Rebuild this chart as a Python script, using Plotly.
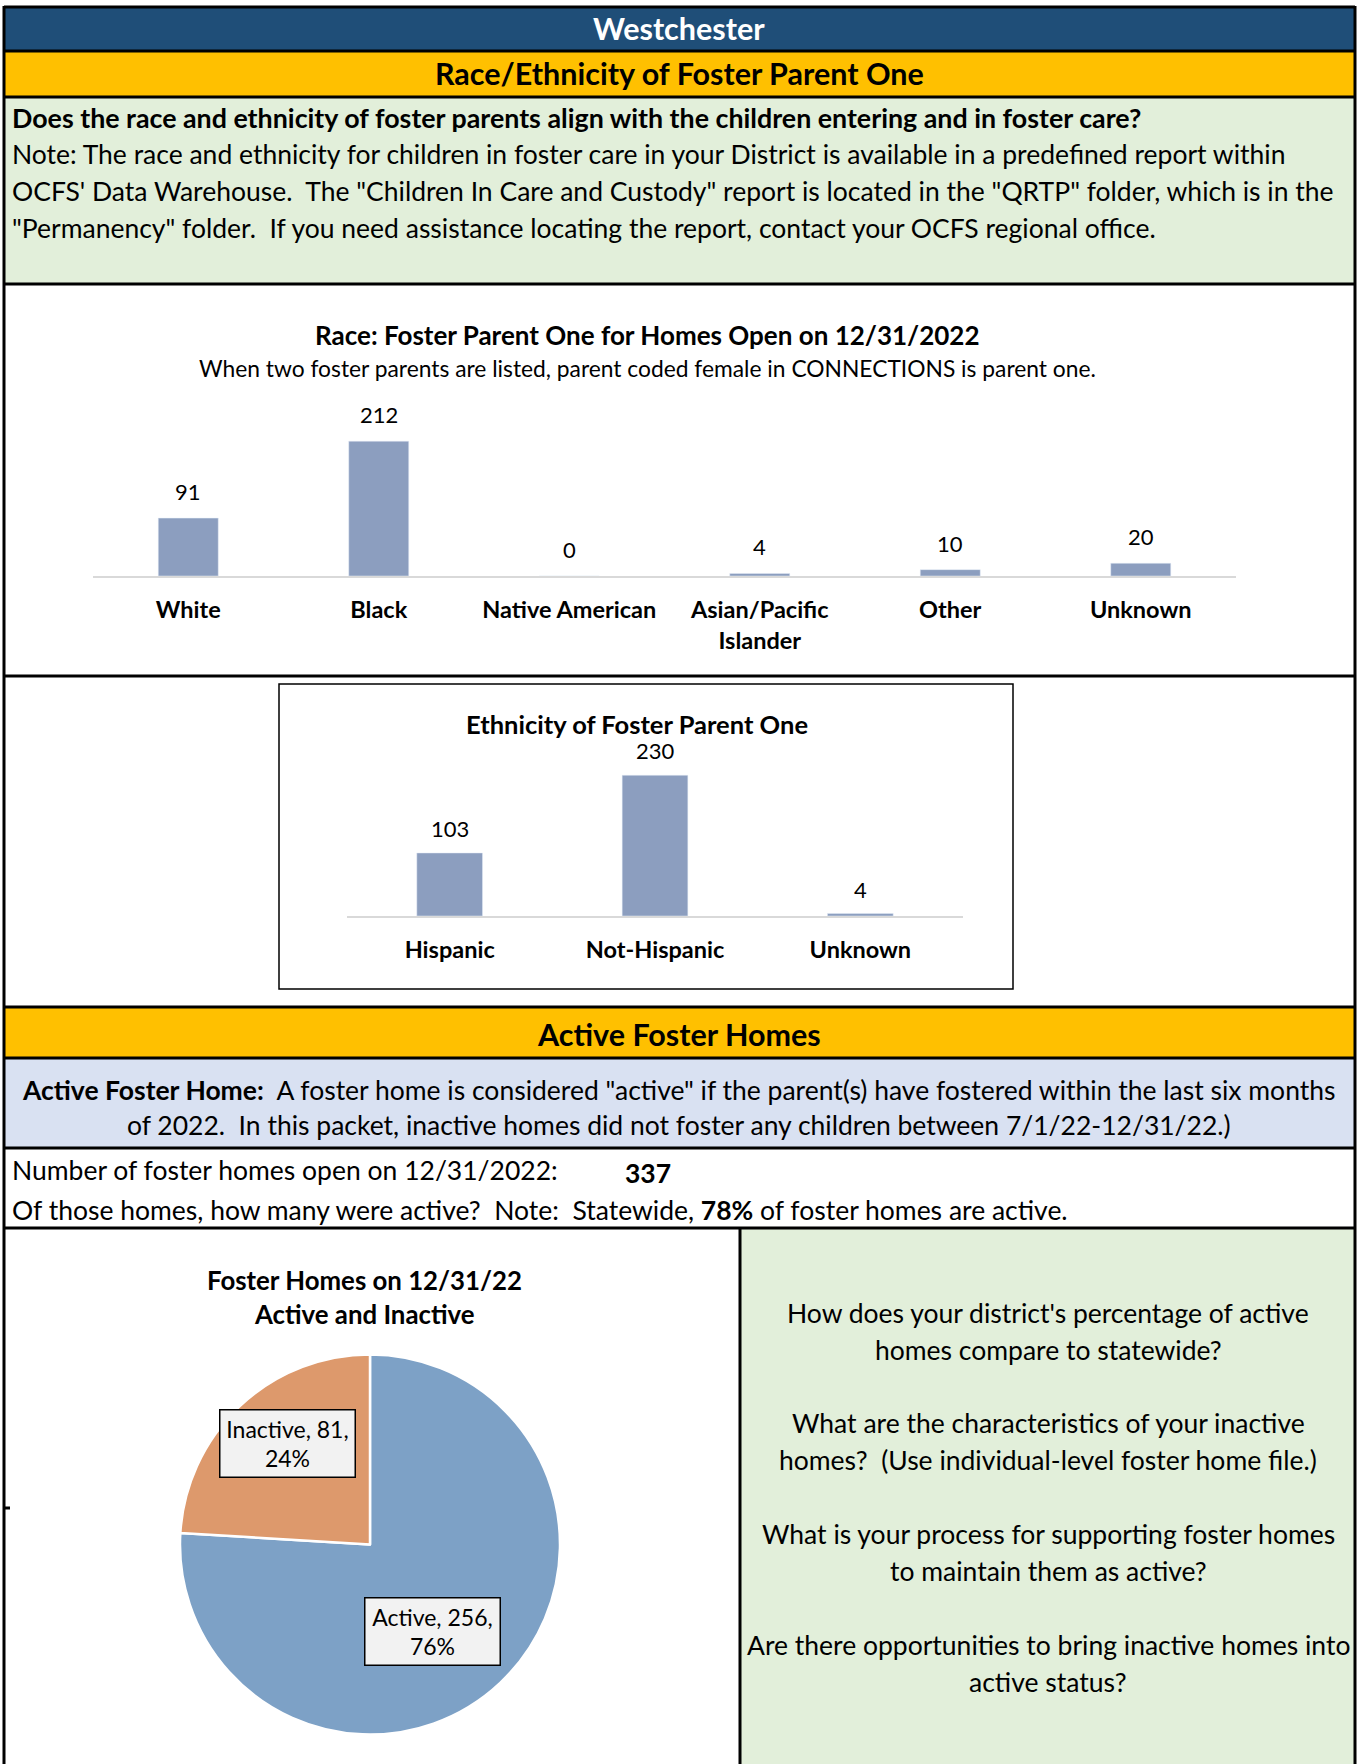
import plotly.graph_objects as go

W, H = 1357, 1764
def X(px): return px / W
def Y(py): return 1 - py / H

# ---------------- data ----------------
district = "Westchester"
race_categories = ["White", "Black", "Native American", "Asian/Pacific<br>Islander", "Other", "Unknown"]
race_values = [91, 212, 0, 4, 10, 20]
eth_categories = ["Hispanic", "Not-Hispanic", "Unknown"]
eth_values = [103, 230, 4]
status_labels = ["Active", "Inactive"]
status_values = [256, 81]
homes_open = 337
statewide_active_pct = 78

# ---------------- styles ----------------
FONT = "Lato"
BAR = "#8C9EBF"
ACTIVE = "#7DA1C6"
INACTIVE = "#DD996C"
NAVY = "#1F4E78"
GOLD = "#FFC000"
GREEN = "#E2EFDA"
LBLUE = "#D9E1F2"
BODY = 26.5
HEAD = 30.5

fig = go.Figure()

fig.add_trace(go.Bar(x=race_categories, y=race_values, marker_color=BAR, width=0.315,
                     xaxis="x", yaxis="y", showlegend=False, hoverinfo="skip"))
fig.add_trace(go.Bar(x=eth_categories, y=eth_values, marker_color=BAR, width=0.32,
                     xaxis="x2", yaxis="y2", showlegend=False, hoverinfo="skip"))
fig.add_trace(go.Pie(labels=status_labels, values=status_values, sort=False,
                     direction="clockwise", rotation=0,
                     marker=dict(colors=[ACTIVE, INACTIVE], line=dict(color="white", width=2.5)),
                     textinfo="none", hoverinfo="skip", showlegend=False,
                     domain=dict(x=[X(180), X(560)], y=[Y(1735), Y(1354)])))

shapes = []
def rect(x0, y0, x1, y1, fill, line_w=0, line_c="black", layer="below"):
    shapes.append(dict(type="rect", xref="paper", yref="paper", x0=X(x0), x1=X(x1),
                       y0=Y(y1), y1=Y(y0), fillcolor=fill, layer=layer,
                       line=dict(width=line_w, color=line_c)))
def hline(y, x0=4, x1=1355, w=3):
    shapes.append(dict(type="line", xref="paper", yref="paper", x0=X(x0), x1=X(x1),
                       y0=Y(y), y1=Y(y), line=dict(color="black", width=w)))
def vline(x, y0, y1, w=3):
    shapes.append(dict(type="line", xref="paper", yref="paper", x0=X(x), x1=X(x),
                       y0=Y(y0), y1=Y(y1), line=dict(color="black", width=w)))

rect(4, 7, 1355, 51, NAVY)
rect(4, 51, 1355, 97, GOLD)
rect(4, 97, 1355, 284, GREEN)
rect(4, 1007, 1355, 1058, GOLD)
rect(4, 1058, 1355, 1148, LBLUE)
rect(740, 1228, 1355, 1764, GREEN)
rect(279, 684, 1013, 989, "rgba(0,0,0,0)", line_w=1.5, layer="above")
for yy in [7, 51, 97, 284, 676, 1007, 1058, 1148, 1228]:
    hline(yy)
vline(4, 6, 1764)
vline(1355, 6, 1764)
vline(740, 1228, 1764)
shapes.append(dict(type="line", xref="paper", yref="paper", x0=X(4), x1=X(10),
                   y0=Y(1508), y1=Y(1508), line=dict(color="black", width=3)))

ann = []
def txt(x, y, s, size=BODY, bold=False, color="black", xanchor="center"):
    ann.append(dict(x=X(x), y=Y(y), xref="paper", yref="paper", text=s, showarrow=False,
                    xanchor=xanchor, yanchor="middle", align=xanchor if xanchor != "center" else "center",
                    font=dict(family=FONT, size=size, color=color, weight="bold" if bold else "normal")))

txt(679, 28, district, HEAD, True, "white")
txt(679, 73, "Race/Ethnicity of Foster Parent One", HEAD, True)
txt(10, 118, "Does the race and ethnicity of foster parents align with the children entering and in foster care?", 26.8, True, xanchor="left")
txt(10, 154, "Note: The race and ethnicity for children in foster care in your District is available in a predefined report within", BODY, xanchor="left")
txt(10, 191, "OCFS' Data Warehouse.&nbsp; The \"Children In Care and Custody\" report is located in the \"QRTP\" folder, which is in the", BODY, xanchor="left")
txt(10, 228, "\"Permanency\" folder.&nbsp; If you need assistance locating the report, contact your OCFS regional office.", BODY, xanchor="left")

txt(647, 335, "Race: Foster Parent One for Homes Open on 12/31/2022", 26, True)
txt(647, 368, "When two foster parents are listed, parent coded female in CONNECTIONS is parent one.", 22.8)
txt(637, 724, "Ethnicity of Foster Parent One", 25.5, True)

txt(679, 1034, "Active Foster Homes", HEAD, True)
txt(679, 1090, "<b>Active Foster Home:</b>&nbsp; A foster home is considered \"active\" if the parent(s) have fostered within the last six months", BODY)
txt(679, 1125, "of 2022.&nbsp; In this packet, inactive homes did not foster any children between 7/1/22-12/31/22.)", BODY)
txt(10, 1170, "Number of foster homes open on 12/31/2022:", BODY, xanchor="left")
txt(648, 1173, str(homes_open), BODY, True)
txt(10, 1210, f"Of those homes, how many were active?&nbsp; Note:&nbsp; Statewide, <b>{statewide_active_pct}%</b> of foster homes are active.", BODY, xanchor="left")

txt(364, 1280, "Foster Homes on 12/31/22", 25.8, True)
txt(364, 1314, "Active and Inactive", 25.8, True)

questions = [
    ("How does your district's percentage of active", "homes compare to statewide?", 1313),
    ("What are the characteristics of your inactive", "homes?&nbsp; (Use individual-level foster home file.)", 1423),
    ("What is your process for supporting foster homes", "to maintain them as active?", 1534),
    ("Are there opportunities to bring inactive homes into", "active status?", 1645),
]
for l1, l2, yy in questions:
    txt(1048, yy, l1, BODY)
    txt(1048, yy + 37, l2, BODY)

# value labels on bars
for c, v in zip(race_categories, race_values):
    ann.append(dict(x=c, y=v, xref="x", yref="y", text=str(v), showarrow=False,
                    yanchor="bottom", yshift=11, font=dict(family=FONT, size=22, color="black")))
for c, v in zip(eth_categories, eth_values):
    ann.append(dict(x=c, y=v, xref="x2", yref="y2", text=str(v), showarrow=False,
                    yanchor="bottom", yshift=9, font=dict(family=FONT, size=22, color="black")))

# pie labels
total = sum(status_values)
pie_label_pos = {"Inactive": (287, 1443), "Active": (433, 1631)}
for lab, v in zip(status_labels, status_values):
    px, py = pie_label_pos[lab]
    pct = round(v / total * 100)
    ann.append(dict(x=X(px), y=Y(py), xref="paper", yref="paper",
                    text=f"{lab}, {v},<br>{pct}%", showarrow=False,
                    xanchor="center", yanchor="middle", align="center",
                    bgcolor="#F2F2F2", bordercolor="black", borderwidth=1.5,
                    width=130, height=62, borderpad=2,
                    font=dict(family=FONT, size=23, color="black")))

axis_common = dict(showgrid=False, zeroline=False, showline=True, linecolor="#D9D9D9",
                   linewidth=2, ticks="outside", ticklen=12, tickcolor="rgba(0,0,0,0)",
                   tickfont=dict(family=FONT, size=23.5, color="black", weight="bold"),
                   fixedrange=True)
fig.update_layout(
    width=W, height=H, margin=dict(l=0, r=0, t=0, b=0),
    paper_bgcolor="white", plot_bgcolor="rgba(0,0,0,0)",
    xaxis=dict(domain=[X(93), X(1236)], anchor="y", **axis_common),
    yaxis=dict(domain=[Y(576), Y(417)], range=[0, 250], visible=False, fixedrange=True),
    xaxis2=dict(domain=[X(347), X(963)], anchor="y2", **axis_common),
    yaxis2=dict(domain=[Y(916), Y(763)], range=[0, 250], visible=False, fixedrange=True),
    shapes=shapes, annotations=ann, bargap=0.68,
)

fig.write_html("out.html", config={"displayModeBar": False},
               post_script="document.body.style.margin='0px';")
